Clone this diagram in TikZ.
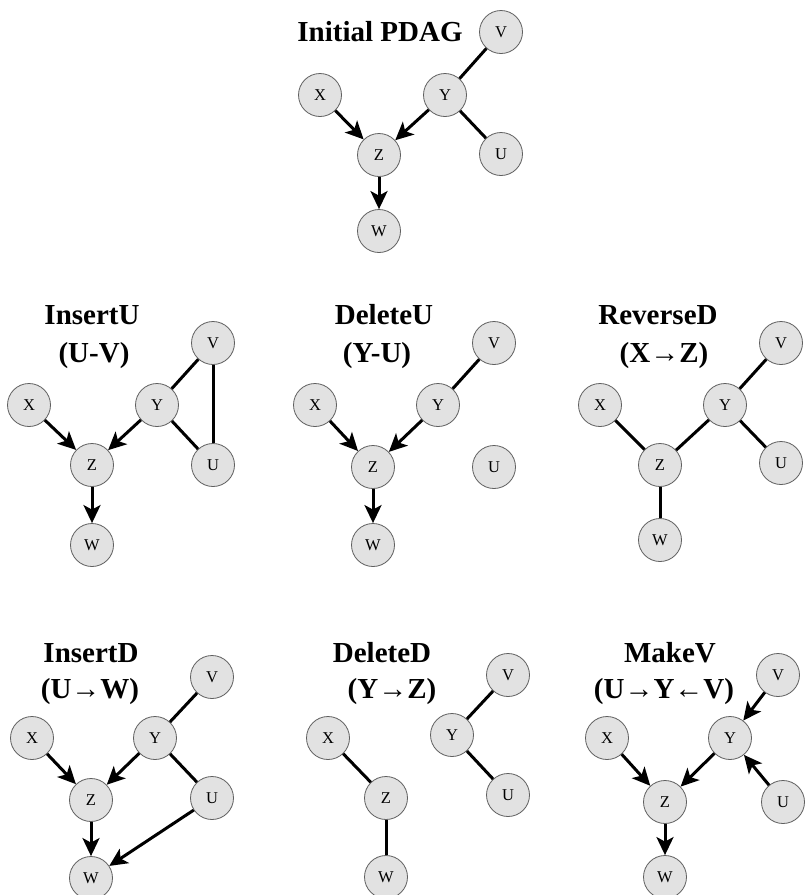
\documentclass[tikz,border=0pt]{standalone}
\usepackage{fontspec}
\setmainfont{Liberation Serif}
\usetikzlibrary{arrows.meta}
\definecolor{nodefill}{RGB}{226,226,226}
\definecolor{nodeline}{RGB}{95,95,95}
\begin{document}
\begin{tikzpicture}[x=1pt,y=-1pt,
  var/.style={circle,draw=nodeline,line width=0.8pt,fill=nodefill,minimum size=43pt,inner sep=0pt,
    font=\fontsize{16.5}{16.5}\selectfont},
  ttl/.style={inner sep=0pt,font=\fontsize{29}{30}\selectfont\bfseries},
  arr/.style={line width=3pt,-{Stealth[length=18pt,width=17pt,inset=4.5pt]}},
  und/.style={line width=3pt}]
\useasboundingbox (0,0) rectangle (805,895);

% Initial PDAG
\node[ttl] (t0) at (380,32) {Initial PDAG};
\node[var] (aV) at (501,32) {V};
\node[var] (aX) at (320,95) {X};
\node[var] (aY) at (445,95) {Y};
\node[var] (aZ) at (379,155) {Z};
\node[var] (aU) at (501,154) {U};
\node[var] (aW) at (379,231) {W};
\draw[arr] (aX) -- (aZ);
\draw[arr] (aY) -- (aZ);
\draw[arr] (aZ) -- (aW);
\draw[und] (aY) -- (aV);
\draw[und] (aY) -- (aU);

% InsertU (U-V)
\node[ttl] (t1a) at (92,315) {InsertU};
\node[ttl] (t1b) at (94,356) {(U-V)};
\node[var] (bV) at (213,343) {V};
\node[var] (bX) at (29,405) {X};
\node[var] (bY) at (157,405) {Y};
\node[var] (bZ) at (92,465) {Z};
\node[var] (bU) at (213,465) {U};
\node[var] (bW) at (92,545) {W};
\draw[arr] (bX) -- (bZ);
\draw[arr] (bY) -- (bZ);
\draw[arr] (bZ) -- (bW);
\draw[und] (bY) -- (bV);
\draw[und] (bY) -- (bU);
\draw[und] (bV) -- (bU);

% DeleteU (Y-U)
\node[ttl] (t2a) at (384,315) {DeleteU};
\node[ttl] (t2b) at (377,356) {(Y-U)};
\node[var] (cV) at (494,343) {V};
\node[var] (cX) at (315,405) {X};
\node[var] (cY) at (438,405) {Y};
\node[var] (cZ) at (373,467) {Z};
\node[var] (cU) at (494,467) {U};
\node[var] (cW) at (373,545) {W};
\draw[arr] (cX) -- (cZ);
\draw[arr] (cY) -- (cZ);
\draw[arr] (cZ) -- (cW);
\draw[und] (cY) -- (cV);

% ReverseD (X->Z)
\node[ttl] (t3a) at (658,315) {ReverseD};
\node[ttl] (t3b) at (664,356) {(X→Z)};
\node[var] (dV) at (781,343) {V};
\node[var] (dX) at (600,405) {X};
\node[var] (dY) at (725,405) {Y};
\node[var] (dZ) at (660,465) {Z};
\node[var] (dU) at (781,463) {U};
\node[var] (dW) at (660,540) {W};
\draw[und] (dX) -- (dZ);
\draw[und] (dZ) -- (dY);
\draw[und] (dY) -- (dV);
\draw[und] (dY) -- (dU);
\draw[und] (dZ) -- (dW);

% InsertD (U->W)
\node[ttl] (t4a) at (91,653) {InsertD};
\node[ttl] (t4b) at (90,692) {(U→W)};
\node[var] (eV) at (212,677) {V};
\node[var] (eX) at (32,738) {X};
\node[var] (eY) at (155,738) {Y};
\node[var] (eZ) at (91,800) {Z};
\node[var] (eU) at (212,798) {U};
\node[var] (eW) at (91,878) {W};
\draw[arr] (eX) -- (eZ);
\draw[arr] (eY) -- (eZ);
\draw[arr] (eZ) -- (eW);
\draw[arr] (eU) -- (eW);
\draw[und] (eY) -- (eV);
\draw[und] (eY) -- (eU);

% DeleteD (Y->Z)
\node[ttl] (t5a) at (382,653) {DeleteD};
\node[ttl] (t5b) at (392,692) {(Y→Z)};
\node[var] (fV) at (508,675) {V};
\node[var] (fX) at (328,738) {X};
\node[var] (fY) at (452,735) {Y};
\node[var] (fZ) at (386,798) {Z};
\node[var] (fU) at (508,795) {U};
\node[var] (fW) at (386,877) {W};
\draw[und] (fX) -- (fZ);
\draw[und] (fZ) -- (fW);
\draw[und] (fY) -- (fV);
\draw[und] (fY) -- (fU);

% MakeV (U->Y<-V)
\node[ttl] (t6a) at (670,653) {MakeV};
\node[ttl] (t6b) at (664,692) {(U→Y←V)};
\node[var] (gV) at (778,675) {V};
\node[var] (gX) at (607,738) {X};
\node[var] (gY) at (730,738) {Y};
\node[var] (gZ) at (665,802) {Z};
\node[var] (gU) at (783,802) {U};
\node[var] (gW) at (665,877) {W};
\draw[arr] (gX) -- (gZ);
\draw[arr] (gY) -- (gZ);
\draw[arr] (gZ) -- (gW);
\draw[arr] (gV) -- (gY);
\draw[arr] (gU) -- (gY);
\end{tikzpicture}
\end{document}
